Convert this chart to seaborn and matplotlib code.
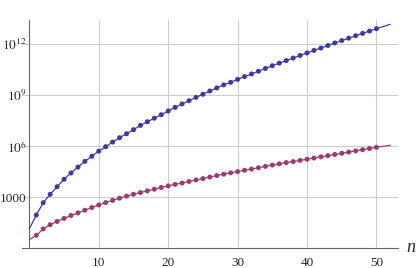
import numpy as np
import pandas as pd
import matplotlib
matplotlib.use("Agg")
import matplotlib.pyplot as plt
import seaborn as sns
from matplotlib.ticker import FixedLocator, FixedFormatter, NullFormatter

# ---- data ----
n_points = list(range(1, 51))
blue_values = [9.1e1, 4.8e2, 1.5e3, 4.2e3, 1.15e4, 2.7e4, 6.0e4, 1.3e5, 2.6e5, 5.2e5,
               9.5e5, 1.78e6, 3.2e6, 5.5e6, 9.5e6, 1.7e7, 2.8e7, 4.5e7, 7.2e7, 1.2e8,
               1.95e8, 3.1e8, 4.8e8, 7.6e8, 1.15e9, 1.8e9, 2.7e9, 4.1e9, 5.8e9, 8.7e9,
               1.26e10, 1.8e10, 2.6e10, 3.8e10, 5.5e10, 7.8e10, 1.1e11, 1.55e11, 2.2e11, 3.1e11,
               4.4e11, 6.0e11, 8.5e11, 1.2e12, 1.66e12, 2.3e12, 3.2e12, 4.4e12, 6.0e12, 8.3e12]
purple_values = [5.8, 13.8, 24.5, 38, 57.5, 85, 120, 174, 251, 355,
                 490, 660, 890, 1175, 1510, 1900, 2400, 3000, 3800, 4700,
                 5750, 6900, 8500, 10500, 12600, 15500, 19000, 23000, 27500, 32400,
                 39000, 45700, 55000, 66000, 79000, 93000, 110000, 126000, 148000, 174000,
                 204000, 240000, 282000, 331000, 389000, 457000, 537000, 631000, 741000, 871000]
# smooth reference curves (start / end values)
curve_start_n, curve_end_n = 0, 52
blue_curve_start, blue_curve_end = 14, 1.5e13
purple_curve_start, purple_curve_end = 3.2, 1.15e6

x_ticks = [10, 20, 30, 40, 50]
y_ticks = [1e3, 1e6, 1e9, 1e12]
y_tick_labels = ["1000", r"$10^{6}$", r"$10^{9}$", r"$10^{12}$"]

BLUE = "#3d3d99"
PURPLE = "#993d71"

pts = pd.DataFrame({
    "n": n_points * 2,
    "value": blue_values + purple_values,
    "series": ["blue"] * 50 + ["purple"] * 50,
})
curve = pd.DataFrame({
    "n": [curve_start_n] + n_points + [curve_end_n] + [curve_start_n] + n_points + [curve_end_n],
    "value": [blue_curve_start] + blue_values + [blue_curve_end]
             + [purple_curve_start] + purple_values + [purple_curve_end],
    "series": ["blue"] * 52 + ["purple"] * 52,
})

sns.set_style("white")
plt.rcParams["font.family"] = ["Liberation Serif", "DejaVu Serif"]
plt.rcParams["mathtext.fontset"] = "stix"

fig = plt.figure(figsize=(4.18, 2.68), dpi=100)
ax = fig.add_axes([21.7 / 418, (268 - 248.3) / 268, (398 - 21.7) / 418, (248.3 - 20) / 268])

pal = {"blue": BLUE, "purple": PURPLE}
sns.lineplot(data=curve, x="n", y="value", hue="series", palette=pal, ax=ax,
             linewidth=0.9, legend=False, sort=False, estimator=None, zorder=3)
sns.scatterplot(data=pts, x="n", y="value", hue="series", palette=pal, ax=ax,
                s=13, linewidth=0, legend=False, zorder=4)

ax.set_yscale("log")
ax.set_xlim(-1.1, 53.1)
ax.set_ylim(1, 10 ** 13.43)

ax.spines["top"].set_visible(False)
ax.spines["right"].set_visible(False)
ax.spines["left"].set_position(("data", 0))
for s in ("left", "bottom"):
    ax.spines[s].set_color("#666666")
    ax.spines[s].set_linewidth(0.8)

ax.xaxis.set_major_locator(FixedLocator(x_ticks))
ax.xaxis.set_minor_locator(FixedLocator([v for v in range(2, 53, 2) if v % 10 != 0]))
ax.yaxis.set_major_locator(FixedLocator(y_ticks))
ax.yaxis.set_major_formatter(FixedFormatter(y_tick_labels))
ax.yaxis.set_minor_locator(FixedLocator([10.0 ** k for k in range(0, 14) if k % 3 != 0]))
ax.yaxis.set_minor_formatter(NullFormatter())

ax.tick_params(axis="both", which="major", direction="in", length=4, width=0.6,
               color="#666666", labelsize=9.5, pad=4)
ax.tick_params(axis="both", which="minor", direction="in", length=2.5, width=0.6,
               color="#666666")
ax.tick_params(axis="x", which="major", pad=6)
ax.tick_params(axis="y", which="major", pad=2)

ax.grid(True, which="major", color="#cccccc", linewidth=0.8)
ax.set_axisbelow(True)
ax.set_xlabel("")
ax.set_ylabel("")

fig.text(411 / 418, (268 - 248) / 268, "n", style="italic", fontsize=13,
         ha="center", va="center")

fig.savefig("out.png", dpi=100)
